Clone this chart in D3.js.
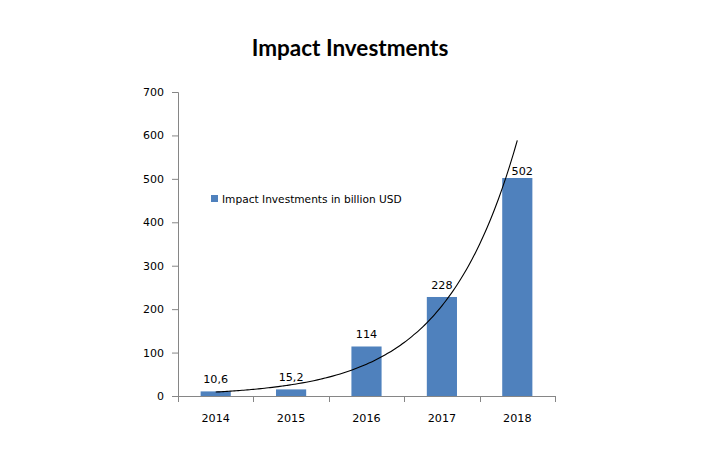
<!DOCTYPE html>
<html><head><meta charset="utf-8">
<script src="https://cdn.jsdelivr.net/npm/d3@7"></script>
<style>body{margin:0;background:#fff}svg{display:block}</style>
</head><body>
<script>
const categories = ["2014","2015","2016","2017","2018"];
const values = [10.6, 15.2, 114, 228, 502];
const valueLabels = ["10,6","15,2","114","228","502"];
const yTicks = [0,100,200,300,400,500,600,700];
const title = "Impact Investments";
const seriesName = "Impact Investments in billion USD";

(function(){
const W = 718, H = 460;
const svg = d3.select("body").append("svg").attr("width", W).attr("height", H);
const mLeft = 178, mRight = 555, mTop = 92, mBottom = 396;

const x = d3.scaleBand().domain(categories).range([mLeft, mRight]).paddingInner(0.6).paddingOuter(0.3);
const y = d3.scaleLinear().domain([0, 700]).range([mBottom, mTop]);
const axisColor = "#868686";
const font = "'DejaVu Sans', Verdana, sans-serif";

svg.append("text").attr("x", 350).attr("y", 56).attr("text-anchor", "middle")
  .attr("font-family", "Lato, 'Open Sans', sans-serif").attr("font-weight", "bold")
  .attr("font-size", 22.5).attr("fill", "#000").text(title);

// y axis
const yAxis = svg.append("g").attr("transform", `translate(${mLeft},0)`)
  .call(d3.axisLeft(y).tickValues(yTicks).tickSize(6).tickPadding(8));
yAxis.select(".domain").attr("stroke", axisColor);
yAxis.selectAll(".tick line").attr("stroke", axisColor);
yAxis.selectAll("text").attr("font-family", font).attr("font-size", 11).attr("fill", "#000");

// x axis
const xAxisG = svg.append("g").attr("transform", `translate(0,${mBottom})`);
xAxisG.append("line").attr("x1", mLeft).attr("x2", mRight).attr("y1", 0.5).attr("y2", 0.5).attr("stroke", axisColor);
const step = x.step();
const bounds = d3.range(categories.length + 1).map(i => mLeft + (mRight - mLeft) * i / categories.length);
xAxisG.selectAll("line.tk").data(bounds).enter().append("line").attr("class","tk")
  .attr("x1", d => Math.round(d) + 0.5).attr("x2", d => Math.round(d) + 0.5)
  .attr("y1", 0).attr("y2", 6).attr("stroke", axisColor);
xAxisG.selectAll("text").data(categories).enter().append("text")
  .attr("x", d => x(d) + x.bandwidth() / 2).attr("y", 26).attr("text-anchor", "middle")
  .attr("font-family", font).attr("font-size", 11.2).attr("fill", "#000").text(d => d);

// bars
svg.selectAll("rect.bar").data(values).enter().append("rect").attr("class","bar")
  .attr("x", (d,i) => x(categories[i])).attr("width", x.bandwidth())
  .attr("y", d => y(d)).attr("height", d => mBottom - y(d)).attr("fill", "#4F81BD");

// exponential trendline (least squares on ln values)
const xs = values.map((d,i) => i + 1);
const ls = values.map(d => Math.log(d));
const mx = d3.mean(xs), ml = d3.mean(ls);
const b = d3.sum(xs.map((v,i) => (v - mx) * (ls[i] - ml))) / d3.sum(xs.map(v => (v - mx) ** 2));
const a = ml - b * mx;
const cx = i => x(categories[0]) + x.bandwidth() / 2 + (i - 1) * step;
const pts = d3.range(1, 5.001, 0.05).map(t => [cx(t), y(Math.exp(a + b * t))]);
svg.append("path").attr("d", d3.line().curve(d3.curveCatmullRom)(pts))
  .attr("fill", "none").attr("stroke", "#000").attr("stroke-width", 1.1);

// value labels
svg.selectAll("text.val").data(values).enter().append("text").attr("class","val")
  .attr("x", (d,i) => x(categories[i]) + x.bandwidth() / 2 + (i === values.length - 1 ? 5 : 0))
  .attr("y", (d,i) => y(d) - (i === values.length - 1 ? 3 : 8))
  .attr("text-anchor", "middle").attr("font-family", font).attr("font-size", 11.2).attr("fill", "#000")
  .text((d,i) => valueLabels[i]);

// legend
svg.append("rect").attr("x", 211).attr("y", 195).attr("width", 7).attr("height", 7).attr("fill", "#4F81BD");
svg.append("text").attr("x", 222).attr("y", 202.5).attr("font-family", font).attr("font-size", 10.6)
  .attr("fill", "#000").text(seriesName);
})();
</script>
</body></html>
